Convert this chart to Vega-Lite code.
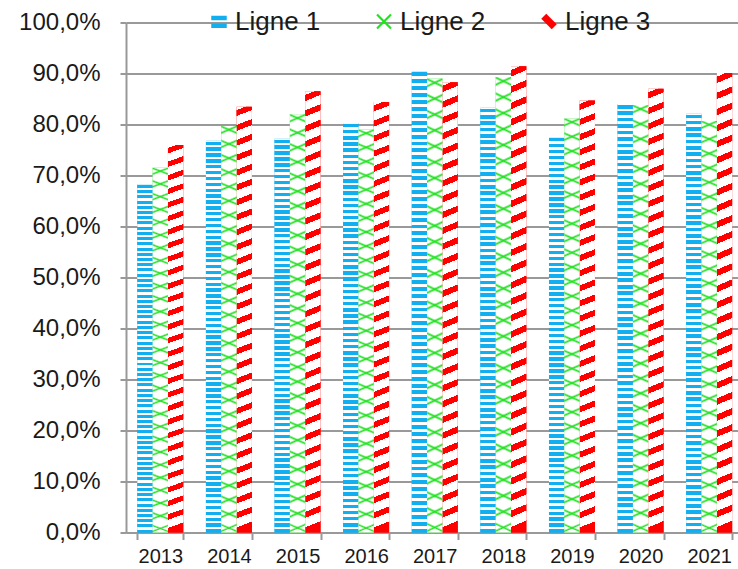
{
"$schema": "https://vega.github.io/schema/vega-lite/v6.json",
"width": 617.5,
"height": 510,
"autosize": {"type": "none"},
"padding": {"left": 126, "top": 22.5, "right": 0, "bottom": 36.5},
"background": "white",
"config": {"view": {"stroke": null}, "font": "Liberation Sans"},
"data": {"values": [
{"annee": "2013", "serie": "Ligne 1", "valeur": 68.3},
{"annee": "2013", "serie": "Ligne 2", "valeur": 71.5},
{"annee": "2013", "serie": "Ligne 3", "valeur": 76.0},
{"annee": "2014", "serie": "Ligne 1", "valeur": 76.8},
{"annee": "2014", "serie": "Ligne 2", "valeur": 79.7},
{"annee": "2014", "serie": "Ligne 3", "valeur": 83.5},
{"annee": "2015", "serie": "Ligne 1", "valeur": 77.2},
{"annee": "2015", "serie": "Ligne 2", "valeur": 82.0},
{"annee": "2015", "serie": "Ligne 3", "valeur": 86.5},
{"annee": "2016", "serie": "Ligne 1", "valeur": 80.3},
{"annee": "2016", "serie": "Ligne 2", "valeur": 79.0},
{"annee": "2016", "serie": "Ligne 3", "valeur": 84.4},
{"annee": "2017", "serie": "Ligne 1", "valeur": 90.4},
{"annee": "2017", "serie": "Ligne 2", "valeur": 89.0},
{"annee": "2017", "serie": "Ligne 3", "valeur": 88.3},
{"annee": "2018", "serie": "Ligne 1", "valeur": 83.3},
{"annee": "2018", "serie": "Ligne 2", "valeur": 89.3},
{"annee": "2018", "serie": "Ligne 3", "valeur": 91.4},
{"annee": "2019", "serie": "Ligne 1", "valeur": 77.5},
{"annee": "2019", "serie": "Ligne 2", "valeur": 81.2},
{"annee": "2019", "serie": "Ligne 3", "valeur": 84.7},
{"annee": "2020", "serie": "Ligne 1", "valeur": 84.0},
{"annee": "2020", "serie": "Ligne 2", "valeur": 83.8},
{"annee": "2020", "serie": "Ligne 3", "valeur": 87.0},
{"annee": "2021", "serie": "Ligne 1", "valeur": 82.1},
{"annee": "2021", "serie": "Ligne 2", "valeur": 80.7},
{"annee": "2021", "serie": "Ligne 3", "valeur": 90.1}
]},
"encoding": {
"x": {"field": "annee", "type": "nominal", "scale": {"paddingInner": 0.33, "paddingOuter": 0.165},
 "axis": {"title": null, "labelAngle": 0, "labelFontSize": 20, "labelFont": "Liberation Sans", "labelColor": "#1a1a1a", "labelPadding": 7, "tickSize": 7, "tickWidth": 2, "tickColor": "#999999", "tickBand": "extent", "domainColor": "#999999", "domainWidth": 2, "grid": false}},
"xOffset": {"field": "serie", "type": "nominal", "scale": {"domain": ["Ligne 1", "Ligne 2", "Ligne 3"], "paddingInner": 0, "paddingOuter": 0}},
"y": {"field": "valeur", "type": "quantitative", "scale": {"domain": [0, 100], "nice": false},
 "axis": {"title": null, "values": [0, 10, 20, 30, 40, 50, 60, 70, 80, 90, 100], "labelExpr": "replace(format(datum.value, '.1f'), '.', ',') + '%'", "labelFontSize": 24, "labelFont": "Liberation Sans", "labelColor": "#1a1a1a", "labelPadding": 20, "tickSize": 6, "tickWidth": 2, "tickColor": "#999999", "domainColor": "#999999", "domainWidth": 2, "grid": true, "gridColor": "#999999", "gridWidth": 2, "gridOpacity": 1}}
},
"layer": [
{"mark": {"type": "bar"},
 "encoding": {"color": {"field": "serie", "type": "nominal",
  "scale": {"domain": ["Ligne 1", "Ligne 2", "Ligne 3"], "range": ["#11aef0", "#22e022", "#ff0000"]},
  "legend": {"orient": "none", "legendX": 80, "legendY": -14, "direction": "horizontal", "title": null, "padding": 0, "columnPadding": 50, "labelOffset": 3, "symbolSize": 240, "symbolStrokeWidth": 0, "symbolOpacity": 1, "labelFontSize": 26, "labelFont": "Liberation Sans", "labelColor": "#1a1a1a", "labelLimit": 0,
   "encode": {"symbols": {"update": {"shape": {"signal": "datum.value === 'Ligne 1' ? 'M -1 -0.75 L 1 -0.75 L 1 -0.15 L -1 -0.15 Z M -1 0.25 L 1 0.25 L 1 0.85 L -1 0.85 Z' : datum.value === 'Ligne 2' ? 'M -1 -0.8 L -0.8 -1 L 0 -0.2 L 0.8 -1 L 1 -0.8 L 0.2 0 L 1 0.8 L 0.8 1 L 0 0.2 L -0.8 1 L -1 0.8 L -0.2 0 Z' : 'M -1 -0.35 L -0.35 -1 L 1 0.35 L 0.35 1 Z'"}}}}}}}
},
{"transform": [{"filter": "datum.serie === 'Ligne 1'"}],
 "mark": {"type": "bar", "fill": {"gradient": "linear", "x1": 0, "y1": 0, "x2": 0, "y2": 1, "stops": [
{"offset":0,"color":"#fff"},
{"offset":0.002,"color":"#fff"},{"offset":0.002,"color":"#11aef0"},{"offset":0.0105,"color":"#11aef0"},{"offset":0.0105,"color":"#fff"},
{"offset":0.017,"color":"#fff"},{"offset":0.017,"color":"#11aef0"},{"offset":0.0255,"color":"#11aef0"},{"offset":0.0255,"color":"#fff"},
{"offset":0.032,"color":"#fff"},{"offset":0.032,"color":"#11aef0"},{"offset":0.0405,"color":"#11aef0"},{"offset":0.0405,"color":"#fff"},
{"offset":0.047,"color":"#fff"},{"offset":0.047,"color":"#11aef0"},{"offset":0.0555,"color":"#11aef0"},{"offset":0.0555,"color":"#fff"},
{"offset":0.062,"color":"#fff"},{"offset":0.062,"color":"#11aef0"},{"offset":0.0705,"color":"#11aef0"},{"offset":0.0705,"color":"#fff"},
{"offset":0.077,"color":"#fff"},{"offset":0.077,"color":"#11aef0"},{"offset":0.0855,"color":"#11aef0"},{"offset":0.0855,"color":"#fff"},
{"offset":0.092,"color":"#fff"},{"offset":0.092,"color":"#11aef0"},{"offset":0.1005,"color":"#11aef0"},{"offset":0.1005,"color":"#fff"},
{"offset":0.107,"color":"#fff"},{"offset":0.107,"color":"#11aef0"},{"offset":0.1155,"color":"#11aef0"},{"offset":0.1155,"color":"#fff"},
{"offset":0.122,"color":"#fff"},{"offset":0.122,"color":"#11aef0"},{"offset":0.1305,"color":"#11aef0"},{"offset":0.1305,"color":"#fff"},
{"offset":0.137,"color":"#fff"},{"offset":0.137,"color":"#11aef0"},{"offset":0.1455,"color":"#11aef0"},{"offset":0.1455,"color":"#fff"},
{"offset":0.152,"color":"#fff"},{"offset":0.152,"color":"#11aef0"},{"offset":0.1605,"color":"#11aef0"},{"offset":0.1605,"color":"#fff"},
{"offset":0.167,"color":"#fff"},{"offset":0.167,"color":"#11aef0"},{"offset":0.1755,"color":"#11aef0"},{"offset":0.1755,"color":"#fff"},
{"offset":0.182,"color":"#fff"},{"offset":0.182,"color":"#11aef0"},{"offset":0.1905,"color":"#11aef0"},{"offset":0.1905,"color":"#fff"},
{"offset":0.197,"color":"#fff"},{"offset":0.197,"color":"#11aef0"},{"offset":0.2055,"color":"#11aef0"},{"offset":0.2055,"color":"#fff"},
{"offset":0.212,"color":"#fff"},{"offset":0.212,"color":"#11aef0"},{"offset":0.2205,"color":"#11aef0"},{"offset":0.2205,"color":"#fff"},
{"offset":0.227,"color":"#fff"},{"offset":0.227,"color":"#11aef0"},{"offset":0.2355,"color":"#11aef0"},{"offset":0.2355,"color":"#fff"},
{"offset":0.242,"color":"#fff"},{"offset":0.242,"color":"#11aef0"},{"offset":0.2505,"color":"#11aef0"},{"offset":0.2505,"color":"#fff"},
{"offset":0.257,"color":"#fff"},{"offset":0.257,"color":"#11aef0"},{"offset":0.2655,"color":"#11aef0"},{"offset":0.2655,"color":"#fff"},
{"offset":0.272,"color":"#fff"},{"offset":0.272,"color":"#11aef0"},{"offset":0.2805,"color":"#11aef0"},{"offset":0.2805,"color":"#fff"},
{"offset":0.287,"color":"#fff"},{"offset":0.287,"color":"#11aef0"},{"offset":0.2955,"color":"#11aef0"},{"offset":0.2955,"color":"#fff"},
{"offset":0.302,"color":"#fff"},{"offset":0.302,"color":"#11aef0"},{"offset":0.3105,"color":"#11aef0"},{"offset":0.3105,"color":"#fff"},
{"offset":0.317,"color":"#fff"},{"offset":0.317,"color":"#11aef0"},{"offset":0.3255,"color":"#11aef0"},{"offset":0.3255,"color":"#fff"},
{"offset":0.332,"color":"#fff"},{"offset":0.332,"color":"#11aef0"},{"offset":0.3405,"color":"#11aef0"},{"offset":0.3405,"color":"#fff"},
{"offset":0.347,"color":"#fff"},{"offset":0.347,"color":"#11aef0"},{"offset":0.3555,"color":"#11aef0"},{"offset":0.3555,"color":"#fff"},
{"offset":0.362,"color":"#fff"},{"offset":0.362,"color":"#11aef0"},{"offset":0.3705,"color":"#11aef0"},{"offset":0.3705,"color":"#fff"},
{"offset":0.377,"color":"#fff"},{"offset":0.377,"color":"#11aef0"},{"offset":0.3855,"color":"#11aef0"},{"offset":0.3855,"color":"#fff"},
{"offset":0.392,"color":"#fff"},{"offset":0.392,"color":"#11aef0"},{"offset":0.4005,"color":"#11aef0"},{"offset":0.4005,"color":"#fff"},
{"offset":0.407,"color":"#fff"},{"offset":0.407,"color":"#11aef0"},{"offset":0.4155,"color":"#11aef0"},{"offset":0.4155,"color":"#fff"},
{"offset":0.422,"color":"#fff"},{"offset":0.422,"color":"#11aef0"},{"offset":0.4305,"color":"#11aef0"},{"offset":0.4305,"color":"#fff"},
{"offset":0.437,"color":"#fff"},{"offset":0.437,"color":"#11aef0"},{"offset":0.4455,"color":"#11aef0"},{"offset":0.4455,"color":"#fff"},
{"offset":0.452,"color":"#fff"},{"offset":0.452,"color":"#11aef0"},{"offset":0.4605,"color":"#11aef0"},{"offset":0.4605,"color":"#fff"},
{"offset":0.467,"color":"#fff"},{"offset":0.467,"color":"#11aef0"},{"offset":0.4755,"color":"#11aef0"},{"offset":0.4755,"color":"#fff"},
{"offset":0.482,"color":"#fff"},{"offset":0.482,"color":"#11aef0"},{"offset":0.4905,"color":"#11aef0"},{"offset":0.4905,"color":"#fff"},
{"offset":0.497,"color":"#fff"},{"offset":0.497,"color":"#11aef0"},{"offset":0.5055,"color":"#11aef0"},{"offset":0.5055,"color":"#fff"},
{"offset":0.512,"color":"#fff"},{"offset":0.512,"color":"#11aef0"},{"offset":0.5205,"color":"#11aef0"},{"offset":0.5205,"color":"#fff"},
{"offset":0.527,"color":"#fff"},{"offset":0.527,"color":"#11aef0"},{"offset":0.5355,"color":"#11aef0"},{"offset":0.5355,"color":"#fff"},
{"offset":0.542,"color":"#fff"},{"offset":0.542,"color":"#11aef0"},{"offset":0.5505,"color":"#11aef0"},{"offset":0.5505,"color":"#fff"},
{"offset":0.557,"color":"#fff"},{"offset":0.557,"color":"#11aef0"},{"offset":0.5655,"color":"#11aef0"},{"offset":0.5655,"color":"#fff"},
{"offset":0.572,"color":"#fff"},{"offset":0.572,"color":"#11aef0"},{"offset":0.5805,"color":"#11aef0"},{"offset":0.5805,"color":"#fff"},
{"offset":0.587,"color":"#fff"},{"offset":0.587,"color":"#11aef0"},{"offset":0.5955,"color":"#11aef0"},{"offset":0.5955,"color":"#fff"},
{"offset":0.602,"color":"#fff"},{"offset":0.602,"color":"#11aef0"},{"offset":0.6105,"color":"#11aef0"},{"offset":0.6105,"color":"#fff"},
{"offset":0.617,"color":"#fff"},{"offset":0.617,"color":"#11aef0"},{"offset":0.6255,"color":"#11aef0"},{"offset":0.6255,"color":"#fff"},
{"offset":0.632,"color":"#fff"},{"offset":0.632,"color":"#11aef0"},{"offset":0.6405,"color":"#11aef0"},{"offset":0.6405,"color":"#fff"},
{"offset":0.647,"color":"#fff"},{"offset":0.647,"color":"#11aef0"},{"offset":0.6555,"color":"#11aef0"},{"offset":0.6555,"color":"#fff"},
{"offset":0.662,"color":"#fff"},{"offset":0.662,"color":"#11aef0"},{"offset":0.6705,"color":"#11aef0"},{"offset":0.6705,"color":"#fff"},
{"offset":0.677,"color":"#fff"},{"offset":0.677,"color":"#11aef0"},{"offset":0.6855,"color":"#11aef0"},{"offset":0.6855,"color":"#fff"},
{"offset":0.692,"color":"#fff"},{"offset":0.692,"color":"#11aef0"},{"offset":0.7005,"color":"#11aef0"},{"offset":0.7005,"color":"#fff"},
{"offset":0.707,"color":"#fff"},{"offset":0.707,"color":"#11aef0"},{"offset":0.7155,"color":"#11aef0"},{"offset":0.7155,"color":"#fff"},
{"offset":0.722,"color":"#fff"},{"offset":0.722,"color":"#11aef0"},{"offset":0.7305,"color":"#11aef0"},{"offset":0.7305,"color":"#fff"},
{"offset":0.737,"color":"#fff"},{"offset":0.737,"color":"#11aef0"},{"offset":0.7455,"color":"#11aef0"},{"offset":0.7455,"color":"#fff"},
{"offset":0.752,"color":"#fff"},{"offset":0.752,"color":"#11aef0"},{"offset":0.7605,"color":"#11aef0"},{"offset":0.7605,"color":"#fff"},
{"offset":0.767,"color":"#fff"},{"offset":0.767,"color":"#11aef0"},{"offset":0.7755,"color":"#11aef0"},{"offset":0.7755,"color":"#fff"},
{"offset":0.782,"color":"#fff"},{"offset":0.782,"color":"#11aef0"},{"offset":0.7905,"color":"#11aef0"},{"offset":0.7905,"color":"#fff"},
{"offset":0.797,"color":"#fff"},{"offset":0.797,"color":"#11aef0"},{"offset":0.8055,"color":"#11aef0"},{"offset":0.8055,"color":"#fff"},
{"offset":0.812,"color":"#fff"},{"offset":0.812,"color":"#11aef0"},{"offset":0.8205,"color":"#11aef0"},{"offset":0.8205,"color":"#fff"},
{"offset":0.827,"color":"#fff"},{"offset":0.827,"color":"#11aef0"},{"offset":0.8355,"color":"#11aef0"},{"offset":0.8355,"color":"#fff"},
{"offset":0.842,"color":"#fff"},{"offset":0.842,"color":"#11aef0"},{"offset":0.8505,"color":"#11aef0"},{"offset":0.8505,"color":"#fff"},
{"offset":0.857,"color":"#fff"},{"offset":0.857,"color":"#11aef0"},{"offset":0.8655,"color":"#11aef0"},{"offset":0.8655,"color":"#fff"},
{"offset":0.872,"color":"#fff"},{"offset":0.872,"color":"#11aef0"},{"offset":0.8805,"color":"#11aef0"},{"offset":0.8805,"color":"#fff"},
{"offset":0.887,"color":"#fff"},{"offset":0.887,"color":"#11aef0"},{"offset":0.8955,"color":"#11aef0"},{"offset":0.8955,"color":"#fff"},
{"offset":0.902,"color":"#fff"},{"offset":0.902,"color":"#11aef0"},{"offset":0.9105,"color":"#11aef0"},{"offset":0.9105,"color":"#fff"},
{"offset":0.917,"color":"#fff"},{"offset":0.917,"color":"#11aef0"},{"offset":0.9255,"color":"#11aef0"},{"offset":0.9255,"color":"#fff"},
{"offset":0.932,"color":"#fff"},{"offset":0.932,"color":"#11aef0"},{"offset":0.9405,"color":"#11aef0"},{"offset":0.9405,"color":"#fff"},
{"offset":0.947,"color":"#fff"},{"offset":0.947,"color":"#11aef0"},{"offset":0.9555,"color":"#11aef0"},{"offset":0.9555,"color":"#fff"},
{"offset":0.962,"color":"#fff"},{"offset":0.962,"color":"#11aef0"},{"offset":0.9705,"color":"#11aef0"},{"offset":0.9705,"color":"#fff"},
{"offset":0.977,"color":"#fff"},{"offset":0.977,"color":"#11aef0"},{"offset":0.9855,"color":"#11aef0"},{"offset":0.9855,"color":"#fff"},
{"offset":0.992,"color":"#fff"},{"offset":0.992,"color":"#11aef0"},{"offset":1,"color":"#11aef0"}
]}}},
{"transform": [{"filter": "datum.serie === 'Ligne 3'"}],
 "mark": {"type": "bar", "fill": {"gradient": "linear", "x1": 0, "y1": 0, "x2": 0.014, "y2": 1, "stops": [
{"offset":0,"color":"#fff"},
{"offset":0.008,"color":"#fff"},{"offset":0.008,"color":"#ff0000"},{"offset":0.022,"color":"#ff0000"},{"offset":0.022,"color":"#fff"},
{"offset":0.043,"color":"#fff"},{"offset":0.043,"color":"#ff0000"},{"offset":0.057,"color":"#ff0000"},{"offset":0.057,"color":"#fff"},
{"offset":0.078,"color":"#fff"},{"offset":0.078,"color":"#ff0000"},{"offset":0.092,"color":"#ff0000"},{"offset":0.092,"color":"#fff"},
{"offset":0.113,"color":"#fff"},{"offset":0.113,"color":"#ff0000"},{"offset":0.127,"color":"#ff0000"},{"offset":0.127,"color":"#fff"},
{"offset":0.148,"color":"#fff"},{"offset":0.148,"color":"#ff0000"},{"offset":0.162,"color":"#ff0000"},{"offset":0.162,"color":"#fff"},
{"offset":0.183,"color":"#fff"},{"offset":0.183,"color":"#ff0000"},{"offset":0.197,"color":"#ff0000"},{"offset":0.197,"color":"#fff"},
{"offset":0.218,"color":"#fff"},{"offset":0.218,"color":"#ff0000"},{"offset":0.232,"color":"#ff0000"},{"offset":0.232,"color":"#fff"},
{"offset":0.253,"color":"#fff"},{"offset":0.253,"color":"#ff0000"},{"offset":0.267,"color":"#ff0000"},{"offset":0.267,"color":"#fff"},
{"offset":0.288,"color":"#fff"},{"offset":0.288,"color":"#ff0000"},{"offset":0.302,"color":"#ff0000"},{"offset":0.302,"color":"#fff"},
{"offset":0.323,"color":"#fff"},{"offset":0.323,"color":"#ff0000"},{"offset":0.337,"color":"#ff0000"},{"offset":0.337,"color":"#fff"},
{"offset":0.358,"color":"#fff"},{"offset":0.358,"color":"#ff0000"},{"offset":0.372,"color":"#ff0000"},{"offset":0.372,"color":"#fff"},
{"offset":0.393,"color":"#fff"},{"offset":0.393,"color":"#ff0000"},{"offset":0.407,"color":"#ff0000"},{"offset":0.407,"color":"#fff"},
{"offset":0.428,"color":"#fff"},{"offset":0.428,"color":"#ff0000"},{"offset":0.442,"color":"#ff0000"},{"offset":0.442,"color":"#fff"},
{"offset":0.463,"color":"#fff"},{"offset":0.463,"color":"#ff0000"},{"offset":0.477,"color":"#ff0000"},{"offset":0.477,"color":"#fff"},
{"offset":0.498,"color":"#fff"},{"offset":0.498,"color":"#ff0000"},{"offset":0.512,"color":"#ff0000"},{"offset":0.512,"color":"#fff"},
{"offset":0.533,"color":"#fff"},{"offset":0.533,"color":"#ff0000"},{"offset":0.547,"color":"#ff0000"},{"offset":0.547,"color":"#fff"},
{"offset":0.568,"color":"#fff"},{"offset":0.568,"color":"#ff0000"},{"offset":0.582,"color":"#ff0000"},{"offset":0.582,"color":"#fff"},
{"offset":0.603,"color":"#fff"},{"offset":0.603,"color":"#ff0000"},{"offset":0.617,"color":"#ff0000"},{"offset":0.617,"color":"#fff"},
{"offset":0.638,"color":"#fff"},{"offset":0.638,"color":"#ff0000"},{"offset":0.652,"color":"#ff0000"},{"offset":0.652,"color":"#fff"},
{"offset":0.673,"color":"#fff"},{"offset":0.673,"color":"#ff0000"},{"offset":0.687,"color":"#ff0000"},{"offset":0.687,"color":"#fff"},
{"offset":0.708,"color":"#fff"},{"offset":0.708,"color":"#ff0000"},{"offset":0.722,"color":"#ff0000"},{"offset":0.722,"color":"#fff"},
{"offset":0.743,"color":"#fff"},{"offset":0.743,"color":"#ff0000"},{"offset":0.757,"color":"#ff0000"},{"offset":0.757,"color":"#fff"},
{"offset":0.778,"color":"#fff"},{"offset":0.778,"color":"#ff0000"},{"offset":0.792,"color":"#ff0000"},{"offset":0.792,"color":"#fff"},
{"offset":0.813,"color":"#fff"},{"offset":0.813,"color":"#ff0000"},{"offset":0.827,"color":"#ff0000"},{"offset":0.827,"color":"#fff"},
{"offset":0.848,"color":"#fff"},{"offset":0.848,"color":"#ff0000"},{"offset":0.862,"color":"#ff0000"},{"offset":0.862,"color":"#fff"},
{"offset":0.883,"color":"#fff"},{"offset":0.883,"color":"#ff0000"},{"offset":0.897,"color":"#ff0000"},{"offset":0.897,"color":"#fff"},
{"offset":0.918,"color":"#fff"},{"offset":0.918,"color":"#ff0000"},{"offset":0.932,"color":"#ff0000"},{"offset":0.932,"color":"#fff"},
{"offset":0.953,"color":"#fff"},{"offset":0.953,"color":"#ff0000"},{"offset":0.967,"color":"#ff0000"},{"offset":0.967,"color":"#fff"},
{"offset":0.988,"color":"#fff"},{"offset":0.988,"color":"#ff0000"},{"offset":1,"color":"#ff0000"}
]}}},
{"transform": [{"filter": "datum.serie === 'Ligne 2'"}],
 "mark": {"type": "bar", "fill": {"gradient": "linear", "x1": 0, "y1": 0, "x2": 0.016, "y2": 1, "stops": [
{"offset":0,"color":"#fff"},
{"offset":0.0125,"color":"#fff"},{"offset":0.017,"color":"#22e022"},{"offset":0.0215,"color":"#fff"},
{"offset":0.0475,"color":"#fff"},{"offset":0.052,"color":"#22e022"},{"offset":0.0565,"color":"#fff"},
{"offset":0.0825,"color":"#fff"},{"offset":0.087,"color":"#22e022"},{"offset":0.0915,"color":"#fff"},
{"offset":0.1175,"color":"#fff"},{"offset":0.122,"color":"#22e022"},{"offset":0.1265,"color":"#fff"},
{"offset":0.1525,"color":"#fff"},{"offset":0.157,"color":"#22e022"},{"offset":0.1615,"color":"#fff"},
{"offset":0.1875,"color":"#fff"},{"offset":0.192,"color":"#22e022"},{"offset":0.1965,"color":"#fff"},
{"offset":0.2225,"color":"#fff"},{"offset":0.227,"color":"#22e022"},{"offset":0.2315,"color":"#fff"},
{"offset":0.2575,"color":"#fff"},{"offset":0.262,"color":"#22e022"},{"offset":0.2665,"color":"#fff"},
{"offset":0.2925,"color":"#fff"},{"offset":0.297,"color":"#22e022"},{"offset":0.3015,"color":"#fff"},
{"offset":0.3275,"color":"#fff"},{"offset":0.332,"color":"#22e022"},{"offset":0.3365,"color":"#fff"},
{"offset":0.3625,"color":"#fff"},{"offset":0.367,"color":"#22e022"},{"offset":0.3715,"color":"#fff"},
{"offset":0.3975,"color":"#fff"},{"offset":0.402,"color":"#22e022"},{"offset":0.4065,"color":"#fff"},
{"offset":0.4325,"color":"#fff"},{"offset":0.437,"color":"#22e022"},{"offset":0.4415,"color":"#fff"},
{"offset":0.4675,"color":"#fff"},{"offset":0.472,"color":"#22e022"},{"offset":0.4765,"color":"#fff"},
{"offset":0.5025,"color":"#fff"},{"offset":0.507,"color":"#22e022"},{"offset":0.5115,"color":"#fff"},
{"offset":0.5375,"color":"#fff"},{"offset":0.542,"color":"#22e022"},{"offset":0.5465,"color":"#fff"},
{"offset":0.5725,"color":"#fff"},{"offset":0.577,"color":"#22e022"},{"offset":0.5815,"color":"#fff"},
{"offset":0.6075,"color":"#fff"},{"offset":0.612,"color":"#22e022"},{"offset":0.6165,"color":"#fff"},
{"offset":0.6425,"color":"#fff"},{"offset":0.647,"color":"#22e022"},{"offset":0.6515,"color":"#fff"},
{"offset":0.6775,"color":"#fff"},{"offset":0.682,"color":"#22e022"},{"offset":0.6865,"color":"#fff"},
{"offset":0.7125,"color":"#fff"},{"offset":0.717,"color":"#22e022"},{"offset":0.7215,"color":"#fff"},
{"offset":0.7475,"color":"#fff"},{"offset":0.752,"color":"#22e022"},{"offset":0.7565,"color":"#fff"},
{"offset":0.7825,"color":"#fff"},{"offset":0.787,"color":"#22e022"},{"offset":0.7915,"color":"#fff"},
{"offset":0.8175,"color":"#fff"},{"offset":0.822,"color":"#22e022"},{"offset":0.8265,"color":"#fff"},
{"offset":0.8525,"color":"#fff"},{"offset":0.857,"color":"#22e022"},{"offset":0.8615,"color":"#fff"},
{"offset":0.8875,"color":"#fff"},{"offset":0.892,"color":"#22e022"},{"offset":0.8965,"color":"#fff"},
{"offset":0.9225,"color":"#fff"},{"offset":0.927,"color":"#22e022"},{"offset":0.9315,"color":"#fff"},
{"offset":0.9575,"color":"#fff"},{"offset":0.962,"color":"#22e022"},{"offset":0.9665,"color":"#fff"},
{"offset":0.9925,"color":"#fff"},{"offset":0.997,"color":"#22e022"},{"offset":1,"color":"#fff"}
]}}},
{"transform": [{"filter": "datum.serie === 'Ligne 2'"}],
 "mark": {"type": "bar", "fill": {"gradient": "linear", "x1": 1, "y1": 0, "x2": 0.984, "y2": 1, "stops": [
{"offset":0,"color":"rgba(34,224,34,0)"},
{"offset":0.0125,"color":"rgba(34,224,34,0)"},{"offset":0.017,"color":"#22e022"},{"offset":0.0215,"color":"rgba(34,224,34,0)"},
{"offset":0.0475,"color":"rgba(34,224,34,0)"},{"offset":0.052,"color":"#22e022"},{"offset":0.0565,"color":"rgba(34,224,34,0)"},
{"offset":0.0825,"color":"rgba(34,224,34,0)"},{"offset":0.087,"color":"#22e022"},{"offset":0.0915,"color":"rgba(34,224,34,0)"},
{"offset":0.1175,"color":"rgba(34,224,34,0)"},{"offset":0.122,"color":"#22e022"},{"offset":0.1265,"color":"rgba(34,224,34,0)"},
{"offset":0.1525,"color":"rgba(34,224,34,0)"},{"offset":0.157,"color":"#22e022"},{"offset":0.1615,"color":"rgba(34,224,34,0)"},
{"offset":0.1875,"color":"rgba(34,224,34,0)"},{"offset":0.192,"color":"#22e022"},{"offset":0.1965,"color":"rgba(34,224,34,0)"},
{"offset":0.2225,"color":"rgba(34,224,34,0)"},{"offset":0.227,"color":"#22e022"},{"offset":0.2315,"color":"rgba(34,224,34,0)"},
{"offset":0.2575,"color":"rgba(34,224,34,0)"},{"offset":0.262,"color":"#22e022"},{"offset":0.2665,"color":"rgba(34,224,34,0)"},
{"offset":0.2925,"color":"rgba(34,224,34,0)"},{"offset":0.297,"color":"#22e022"},{"offset":0.3015,"color":"rgba(34,224,34,0)"},
{"offset":0.3275,"color":"rgba(34,224,34,0)"},{"offset":0.332,"color":"#22e022"},{"offset":0.3365,"color":"rgba(34,224,34,0)"},
{"offset":0.3625,"color":"rgba(34,224,34,0)"},{"offset":0.367,"color":"#22e022"},{"offset":0.3715,"color":"rgba(34,224,34,0)"},
{"offset":0.3975,"color":"rgba(34,224,34,0)"},{"offset":0.402,"color":"#22e022"},{"offset":0.4065,"color":"rgba(34,224,34,0)"},
{"offset":0.4325,"color":"rgba(34,224,34,0)"},{"offset":0.437,"color":"#22e022"},{"offset":0.4415,"color":"rgba(34,224,34,0)"},
{"offset":0.4675,"color":"rgba(34,224,34,0)"},{"offset":0.472,"color":"#22e022"},{"offset":0.4765,"color":"rgba(34,224,34,0)"},
{"offset":0.5025,"color":"rgba(34,224,34,0)"},{"offset":0.507,"color":"#22e022"},{"offset":0.5115,"color":"rgba(34,224,34,0)"},
{"offset":0.5375,"color":"rgba(34,224,34,0)"},{"offset":0.542,"color":"#22e022"},{"offset":0.5465,"color":"rgba(34,224,34,0)"},
{"offset":0.5725,"color":"rgba(34,224,34,0)"},{"offset":0.577,"color":"#22e022"},{"offset":0.5815,"color":"rgba(34,224,34,0)"},
{"offset":0.6075,"color":"rgba(34,224,34,0)"},{"offset":0.612,"color":"#22e022"},{"offset":0.6165,"color":"rgba(34,224,34,0)"},
{"offset":0.6425,"color":"rgba(34,224,34,0)"},{"offset":0.647,"color":"#22e022"},{"offset":0.6515,"color":"rgba(34,224,34,0)"},
{"offset":0.6775,"color":"rgba(34,224,34,0)"},{"offset":0.682,"color":"#22e022"},{"offset":0.6865,"color":"rgba(34,224,34,0)"},
{"offset":0.7125,"color":"rgba(34,224,34,0)"},{"offset":0.717,"color":"#22e022"},{"offset":0.7215,"color":"rgba(34,224,34,0)"},
{"offset":0.7475,"color":"rgba(34,224,34,0)"},{"offset":0.752,"color":"#22e022"},{"offset":0.7565,"color":"rgba(34,224,34,0)"},
{"offset":0.7825,"color":"rgba(34,224,34,0)"},{"offset":0.787,"color":"#22e022"},{"offset":0.7915,"color":"rgba(34,224,34,0)"},
{"offset":0.8175,"color":"rgba(34,224,34,0)"},{"offset":0.822,"color":"#22e022"},{"offset":0.8265,"color":"rgba(34,224,34,0)"},
{"offset":0.8525,"color":"rgba(34,224,34,0)"},{"offset":0.857,"color":"#22e022"},{"offset":0.8615,"color":"rgba(34,224,34,0)"},
{"offset":0.8875,"color":"rgba(34,224,34,0)"},{"offset":0.892,"color":"#22e022"},{"offset":0.8965,"color":"rgba(34,224,34,0)"},
{"offset":0.9225,"color":"rgba(34,224,34,0)"},{"offset":0.927,"color":"#22e022"},{"offset":0.9315,"color":"rgba(34,224,34,0)"},
{"offset":0.9575,"color":"rgba(34,224,34,0)"},{"offset":0.962,"color":"#22e022"},{"offset":0.9665,"color":"rgba(34,224,34,0)"},
{"offset":0.9925,"color":"rgba(34,224,34,0)"},{"offset":0.997,"color":"#22e022"},{"offset":1,"color":"rgba(34,224,34,0)"}
]}}}
]
}
